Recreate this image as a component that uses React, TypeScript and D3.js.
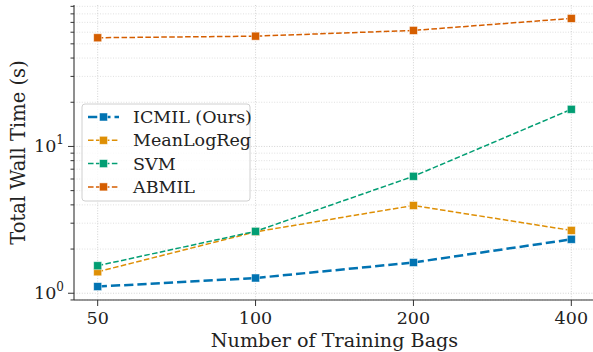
import * as d3 from "d3";

const bags = [50, 100, 200, 400];

const icmil = [1.11, 1.27, 1.62, 2.33];
const meanLogReg = [1.4, 2.62, 3.96, 2.68];
const svm = [1.54, 2.64, 6.26, 17.9];
const abmil = [55.0, 56.4, 61.7, 74.5];

const seriesNames = ["ICMIL (Ours)", "MeanLogReg", "SVM", "ABMIL"];
const seriesColors = ["#0173b2", "#de8f05", "#029e73", "#d55e00"];

const yMajorTicks = [1, 10];

const W = 593;
const H = 352;
const margin = { top: 5, right: -2, bottom: 52, left: 74 };
const font = "DejaVu Serif";

export default function App() {
  const series = [icmil, meanLogReg, svm, abmil];

  // 5% padding in log space, like matplotlib
  const padLog = (lo: number, hi: number) => {
    const a = Math.log10(lo);
    const b = Math.log10(hi);
    const p = (b - a) * 0.05;
    return [10 ** (a - p), 10 ** (b + p)];
  };

  const allY = series.flat();
  const x = d3
    .scaleLog()
    .domain(padLog(d3.min(bags)!, d3.max(bags)!))
    .range([margin.left, W - margin.right]);
  const y = d3
    .scaleLog()
    .domain(padLog(d3.min(allY)!, d3.max(allY)!))
    .range([H - margin.bottom, margin.top]);

  const [y0, y1] = y.domain();
  const minorTicks: number[] = [];
  for (let d = -1; d <= 2; d++) {
    for (let m = 2; m <= 9; m++) {
      const v = m * 10 ** d;
      if (v > y0 && v < y1) minorTicks.push(v);
    }
  }

  const line = d3
    .line<number>()
    .x((_, i) => x(bags[i]))
    .y((d) => y(d));

  const plotLeft = margin.left;
  const plotRight = W - margin.right;
  const plotBottom = H - margin.bottom;

  const lw = (i: number) => (i === 0 ? 2.5 : 1.5);
  const dash = (i: number) => `${3.7 * lw(i)} ${1.6 * lw(i)}`;
  const ms = 8;

  const legend = { x: 82, y: 104, w: 168, h: 97 };

  return (
    <svg
      width={W}
      height={H}
      style={{
        position: "absolute",
        left: 0,
        top: 0,
        background: "#fff",
        fontFamily: font,
      }}
    >
      {/* grid */}
      <g>
        {minorTicks.map((t) => (
          <line
            key={"mg" + t}
            x1={plotLeft}
            x2={plotRight}
            y1={y(t)}
            y2={y(t)}
            stroke="#d8d8d8"
            strokeWidth={0.8}
            strokeDasharray="1 1.6"
          />
        ))}
        {yMajorTicks.map((t) => (
          <line
            key={"g" + t}
            x1={plotLeft}
            x2={plotRight}
            y1={y(t)}
            y2={y(t)}
            stroke="#c8c8c8"
            strokeWidth={0.8}
            strokeDasharray="1 1.6"
          />
        ))}
        {bags.map((b) => (
          <line
            key={"xg" + b}
            x1={x(b)}
            x2={x(b)}
            y1={margin.top}
            y2={plotBottom}
            stroke="#c8c8c8"
            strokeWidth={0.8}
            strokeDasharray="1 1.6"
          />
        ))}
      </g>

      {/* series */}
      {series.map((s, i) => (
        <g key={seriesNames[i]}>
          <path
            d={line(s) ?? ""}
            fill="none"
            stroke={seriesColors[i]}
            strokeWidth={lw(i)}
            strokeDasharray={dash(i)}
          />
          {s.map((v, j) => (
            <rect
              key={j}
              x={x(bags[j]) - ms / 2}
              y={y(v) - ms / 2}
              width={ms}
              height={ms}
              fill={seriesColors[i]}
              stroke="#fff"
              strokeOpacity={0.6}
              strokeWidth={0.8}
            />
          ))}
        </g>
      ))}

      {/* axes */}
      <g stroke="#333" strokeWidth={1.1}>
        <line x1={plotLeft} x2={plotLeft} y1={margin.top} y2={plotBottom} />
        <line x1={plotLeft} x2={plotRight} y1={plotBottom} y2={plotBottom} />
      </g>
      <g stroke="#333" strokeWidth={1}>
        {minorTicks.map((t) => (
          <line key={"mt" + t} x1={plotLeft - 3.5} x2={plotLeft} y1={y(t)} y2={y(t)} />
        ))}
        {yMajorTicks.map((t) => (
          <line key={"t" + t} x1={plotLeft - 6} x2={plotLeft} y1={y(t)} y2={y(t)} />
        ))}
        {bags.map((b) => (
          <line key={"xt" + b} x1={x(b)} x2={x(b)} y1={plotBottom} y2={plotBottom + 6} />
        ))}
      </g>
      <g fontSize={17.5} fill="#222">
        {yMajorTicks.map((t) => (
          <text key={"yl" + t} x={plotLeft - 10} y={y(t) + 6} textAnchor="end">
            10
            <tspan fontSize={12} dy={-8}>
              {Math.round(Math.log10(t))}
            </tspan>
          </text>
        ))}
        {bags.map((b) => (
          <text key={"xl" + b} x={x(b)} y={plotBottom + 24} textAnchor="middle">
            {b}
          </text>
        ))}
      </g>
      <text
        x={(plotLeft + plotRight) / 2}
        y={H - 5}
        textAnchor="middle"
        fontSize={19.2}
        fill="#222"
      >
        Number of Training Bags
      </text>
      <text
        transform={`translate(25,${(margin.top + plotBottom) / 2}) rotate(-90)`}
        textAnchor="middle"
        fontSize={19.5}
        fill="#222"
      >
        Total Wall Time (s)
      </text>

      {/* legend */}
      <g>
        <rect
          x={legend.x}
          y={legend.y}
          width={legend.w}
          height={legend.h}
          rx={3}
          fill="#fff"
          fillOpacity={0.8}
          stroke="#d0d0d0"
          strokeWidth={1}
        />
        {seriesNames.map((name, i) => {
          const ly = legend.y + 13 + i * 23.3;
          return (
            <g key={name}>
              <line
                x1={legend.x + 6}
                x2={legend.x + 37}
                y1={ly}
                y2={ly}
                stroke={seriesColors[i]}
                strokeWidth={lw(i)}
                strokeDasharray={dash(i)}
              />
              <rect
                x={legend.x + 21.5 - ms / 2}
                y={ly - ms / 2}
                width={ms}
                height={ms}
                fill={seriesColors[i]}
                stroke="#fff"
                strokeOpacity={0.6}
                strokeWidth={0.8}
              />
              <text x={legend.x + 51} y={ly + 6} fontSize={17.5} fill="#222">
                {name}
              </text>
            </g>
          );
        })}
      </g>
    </svg>
  );
}
